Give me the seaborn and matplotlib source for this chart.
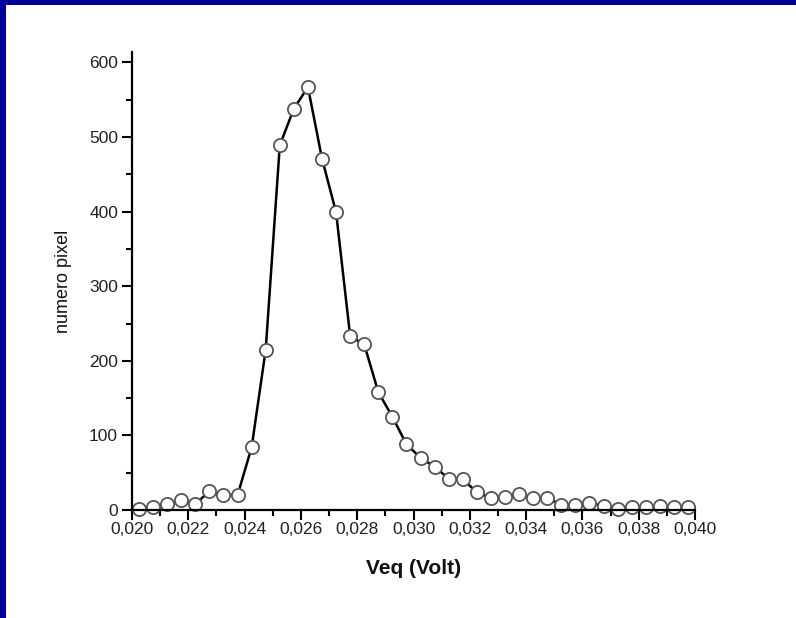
import numpy as np
import pandas as pd
import matplotlib
matplotlib.use("Agg")
import matplotlib.pyplot as plt
from matplotlib.ticker import FuncFormatter, MultipleLocator
from matplotlib.patches import Rectangle
import seaborn as sns

# Data (bin centres in Volt, counts)
veq = [0.02025, 0.02075, 0.02125, 0.02175, 0.02225, 0.02275, 0.02325, 0.02375,
       0.02425, 0.02475, 0.02525, 0.02575, 0.02625, 0.02675, 0.02725, 0.02775,
       0.02825, 0.02875, 0.02925, 0.02975, 0.03025, 0.03075, 0.03125, 0.03175,
       0.03225, 0.03275, 0.03325, 0.03375, 0.03425, 0.03475, 0.03525, 0.03575,
       0.03625, 0.03675, 0.03725, 0.03775, 0.03825, 0.03875, 0.03925, 0.03975]
pixels = [2, 4, 8, 13, 8, 25, 20, 20,
          84, 215, 489, 538, 567, 471, 399, 233,
          222, 158, 125, 88, 70, 58, 42, 41,
          24, 16, 18, 21, 16, 16, 7, 7,
          9, 6, 2, 4, 4, 5, 4, 4]
xlabel = "Veq (Volt)"
ylabel = "numero pixel"

df = pd.DataFrame({"veq": veq, "pixels": pixels})

sns.set_theme(style="white")
plt.rcParams['font.family'] = ['Liberation Sans', 'DejaVu Sans']

fig = plt.figure(figsize=(7.96, 6.18), dpi=100)
fig.patch.set_facecolor("white")
W, H = 796, 618
ax = fig.add_axes([132 / W, 1 - 510 / H, (695 - 132) / W, (510 - 52) / H])

sns.lineplot(data=df, x="veq", y="pixels", ax=ax, color="black", linewidth=1.8,
             marker="o", markersize=9.5, markerfacecolor="white",
             markeredgecolor="#555555", markeredgewidth=1.3, clip_on=False)

ax.set_xlim(0.020, 0.040)
ax.set_ylim(0, 614)
ax.xaxis.set_major_locator(MultipleLocator(0.002))
ax.xaxis.set_minor_locator(MultipleLocator(0.001))
ax.yaxis.set_major_locator(MultipleLocator(100))
ax.yaxis.set_minor_locator(MultipleLocator(50))
ax.xaxis.set_major_formatter(FuncFormatter(lambda v, p: f"{v:.3f}".replace(".", ",")))
ax.yaxis.set_major_formatter(FuncFormatter(lambda v, p: f"{v:.0f}"))

for s in ["top", "right"]:
    ax.spines[s].set_visible(False)
for s in ["left", "bottom"]:
    ax.spines[s].set_linewidth(1.6)
    ax.spines[s].set_color("black")

ax.tick_params(axis="both", which="major", direction="out", length=7, width=1.5,
               color="black", labelsize=12.5, labelcolor="#222222")
ax.tick_params(axis="both", which="minor", direction="out", length=4, width=1.5,
               color="black")
ax.tick_params(axis="x", which="major", pad=1.5)
ax.tick_params(axis="y", which="major", pad=3)
ax.tick_params(bottom=True, left=True, which="both")

ax.set_xlabel(xlabel, fontsize=15, fontweight="bold", color="#111111")
ax.set_ylabel(ylabel, fontsize=13, color="#111111")
ax.xaxis.set_label_coords(0.5, -(568 - 510) / 458)
ax.xaxis.label.set_va("center")
ax.yaxis.set_label_coords((63 - 132) / 563, 0.5)
ax.yaxis.label.set_va("center")

# blue frame at top and left
fig.patches.append(Rectangle((0, 1 - 5 / H), 1, 5 / H, transform=fig.transFigure,
                             facecolor="#000099", edgecolor="none", zorder=10))
fig.patches.append(Rectangle((0, 0), 6 / W, 1, transform=fig.transFigure,
                             facecolor="#000099", edgecolor="none", zorder=10))

fig.savefig("out.png", dpi=100, facecolor="white")
